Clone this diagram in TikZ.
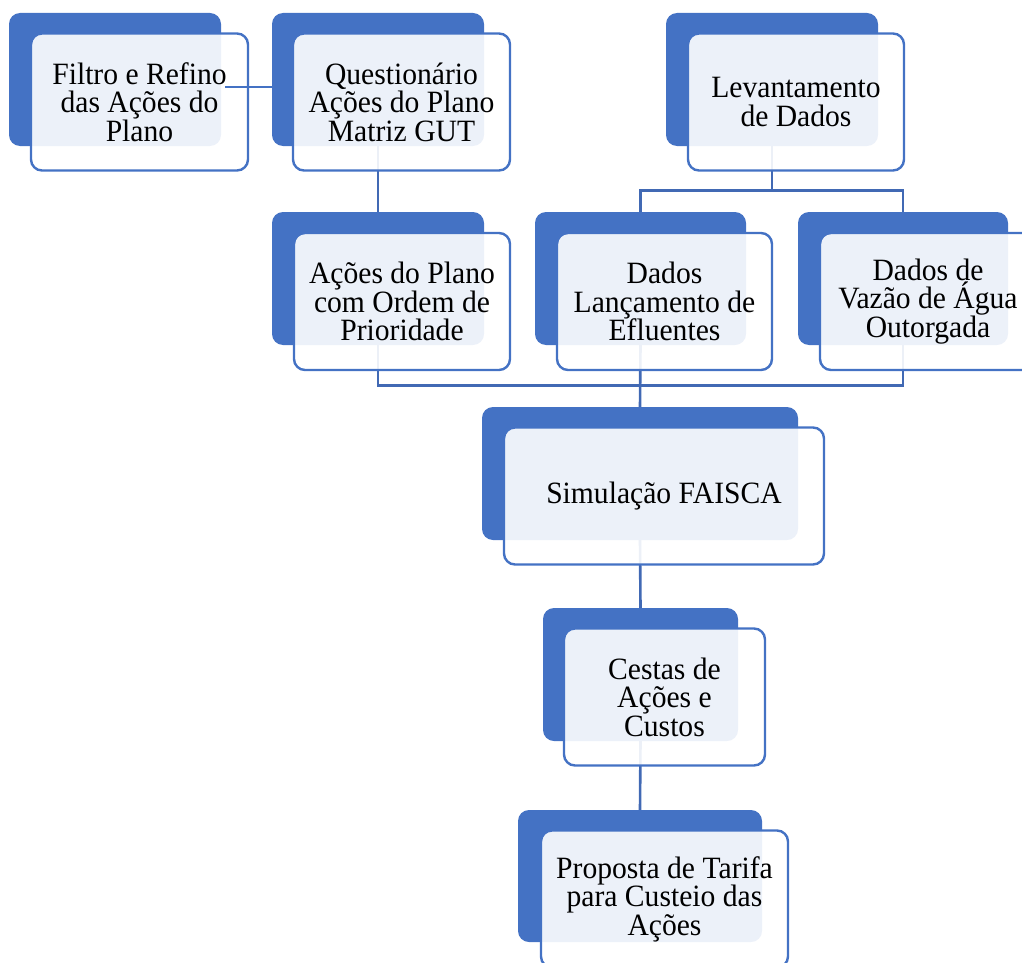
\documentclass[tikz,border=0pt]{standalone}
\usepackage{fontspec}
\setmainfont{Liberation Serif}[FakeStretch=0.955]
\definecolor{accent}{RGB}{68,114,196}
\definecolor{linkc}{RGB}{65,105,180}
\pgfdeclarelayer{bg}
\pgfsetlayers{bg,main}
\begin{document}
\begin{tikzpicture}[x=1pt,y=-1pt,
  backbox/.style={rectangle, rounded corners=11pt, fill=accent, draw=none, inner sep=0pt, minimum height=133pt},
  frontbox/.style={rectangle, rounded corners=11pt, draw=accent, line width=2.4pt, fill=white, fill opacity=0.9, text opacity=1, draw opacity=1, inner sep=0pt, minimum height=137pt, align=center, font=\fontsize{31}{28.6}\selectfont},
  link/.style={draw=linkc, line width=2.6pt}]
\clip (0,0) rectangle (1022,963);
% back boxes
\node[backbox, minimum width=212pt] (b1) at (115,79.5) {};
\node[backbox, minimum width=212pt] (b2) at (378,79.5) {};
\node[backbox, minimum width=212pt] (b3) at (772,79.5) {};
\node[backbox, minimum width=212pt] (b4) at (378,278.5) {};
\node[backbox, minimum width=211pt] (b5) at (640.5,278.5) {};
\node[backbox, minimum width=210pt] (b6) at (903,278.5) {};
\node[backbox, minimum width=316pt] (b7) at (640,473.5) {};
\node[backbox, minimum width=195pt] (b8) at (640.5,674.5) {};
\node[backbox, minimum width=244pt, minimum height=132pt] (b9) at (640,876) {};
% connectors
\begin{pgfonlayer}{bg}
\draw[link] (b2.south) -- (b4.north);
\draw[link] (b3.south) -- ++(0,44) -| (b5.north);
\draw[link] (b3.south) -- ++(0,44) -| (b6.north);
\draw[link] (b4.south) -- ++(0,40) -| (b7.north);
\draw[link] (b6.south) -- ++(0,40) -| (b7.north);
\draw[link] (b5.south) -- (b7.north);
\draw[link] (b7.south) -- (b8.north);
\draw[link] (b8.south) -- (b9.north);
\end{pgfonlayer}
% front boxes
\node[frontbox, minimum width=217pt] (f1) at (139.5,102) {Filtro e Refino\\das Ações do\\Plano};
\node[frontbox, minimum width=217pt] (f2) at (401.5,102) {Questionário\\Ações do Plano\\Matriz GUT};
\node[frontbox, minimum width=216pt] (f3) at (796,102) {Levantamento\\de Dados};
\node[frontbox, minimum width=216pt] (f4) at (402,301.5) {Ações do Plano\\com Ordem de\\Prioridade};
\node[frontbox, minimum width=215pt] (f5) at (664.5,301.5) {Dados\\Lançamento de\\Efluentes};
\node[frontbox, minimum width=216pt] (f6) at (928,301.5) {Dados de\\Vazão de Água\\Outorgada};
\node[frontbox, minimum width=320pt] (f7) at (664,496) {Simulação FAISCA};
\node[frontbox, minimum width=201pt] (f8) at (664.5,697) {Cestas de\\Ações e\\Custos};
\node[frontbox, minimum width=247pt] (f9) at (664.5,899) {Proposta de Tarifa\\para Custeio das\\Ações};
% top link
\coordinate (c1) at (225,87);
\draw[draw=accent, line width=2pt] (c1) -- (b2.west |- c1);
\end{tikzpicture}
\end{document}
